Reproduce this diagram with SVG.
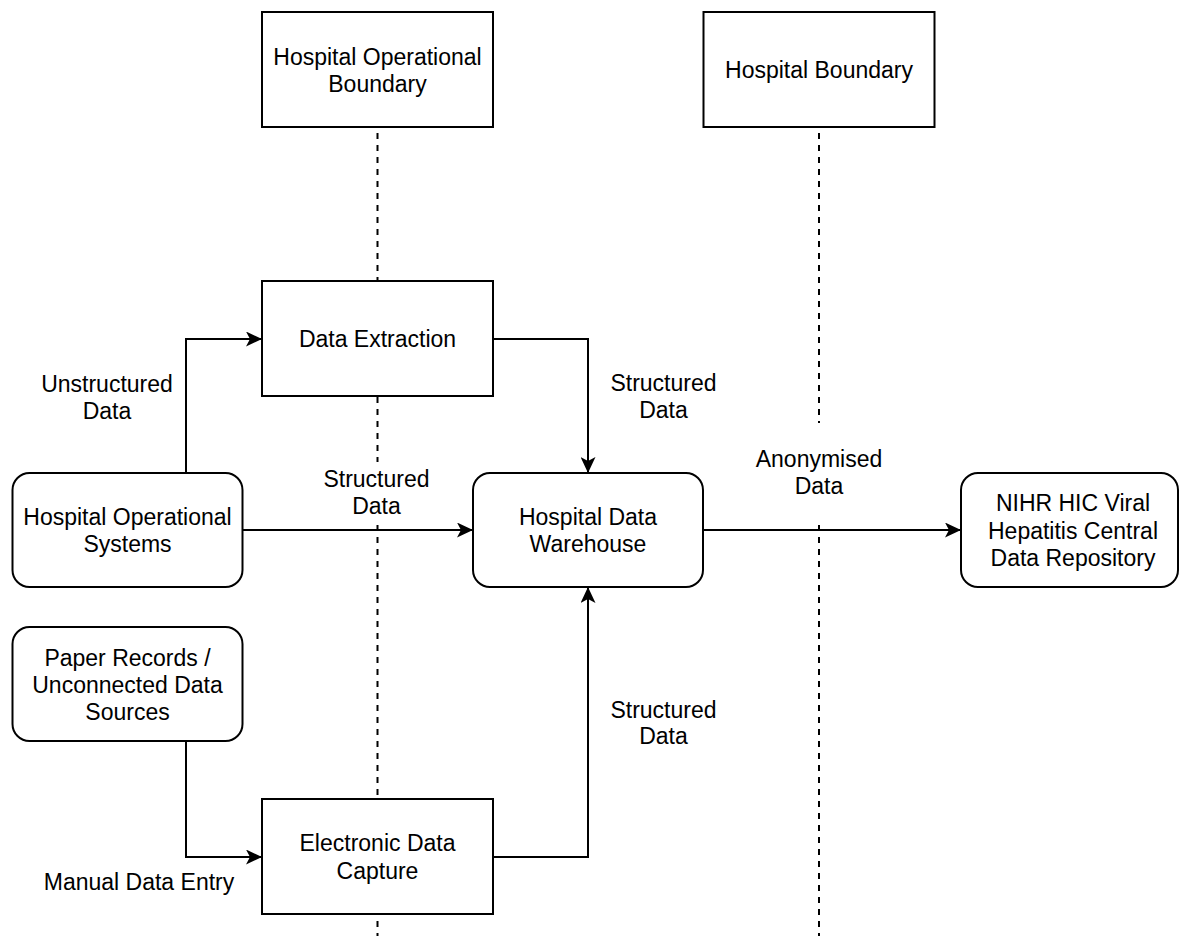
<svg xmlns="http://www.w3.org/2000/svg" width="1179" height="936" viewBox="0 0 1179 936">
  <style>
    .box { fill: #ffffff; stroke: #000000; stroke-width: 2; }
    .t { font-family: "Liberation Sans", Arial, Helvetica, sans-serif; font-size: 23px; fill: #000000; text-anchor: middle; }
    .conn { fill: none; stroke: #000000; stroke-width: 2; }
    .dash { fill: none; stroke: #000000; stroke-width: 2; stroke-dasharray: 6 6; }
  </style>
  <defs>
    <marker id="arrow" markerUnits="userSpaceOnUse" viewBox="0 0 16 15" refX="15" refY="7.5" markerWidth="16" markerHeight="15" orient="auto">
      <path d="M0,0 L16,7.5 L0,15 L4,7.5 Z" fill="#000000"/>
    </marker>
  </defs>
  <rect width="1179" height="936" fill="#ffffff"/>

  <g id="boundaries">
    <line class="dash" x1="377.5" y1="133" x2="377.5" y2="462"/>
    <line class="dash" x1="377.5" y1="525" x2="377.5" y2="936"/>
    <line class="dash" x1="819" y1="133" x2="819" y2="423"/>
    <line class="dash" x1="819" y1="525" x2="819" y2="936"/>
  </g>

  <g id="connectors">
    <path class="conn" d="M186,473 V339 H261" marker-end="url(#arrow)"/>
    <path class="conn" d="M493,339 H588 V472" marker-end="url(#arrow)"/>
    <path class="conn" d="M243,530 H472" marker-end="url(#arrow)"/>
    <path class="conn" d="M703,530 H960" marker-end="url(#arrow)"/>
    <path class="conn" d="M186,742 V857 H261" marker-end="url(#arrow)"/>
    <path class="conn" d="M493,857 H588 V588" marker-end="url(#arrow)"/>
    <text class="t" x="107" y="392">Unstructured</text>
    <text class="t" x="107" y="418.5">Data</text>
    <text class="t" x="376.5" y="487">Structured</text>
    <text class="t" x="376.5" y="513.5">Data</text>
    <text class="t" x="663.5" y="391">Structured</text>
    <text class="t" x="663.5" y="417.5">Data</text>
    <text class="t" x="819" y="467">Anonymised</text>
    <text class="t" x="819" y="494">Data</text>
    <text class="t" x="663.5" y="717.5">Structured</text>
    <text class="t" x="663.5" y="744">Data</text>
    <text class="t" x="139" y="890">Manual Data Entry</text>
  </g>

  <g id="hospital-operational-boundary">
    <rect class="box" x="262" y="12" width="231" height="115"/>
    <text class="t" x="377.5" y="64.5">Hospital Operational</text>
    <text class="t" x="377.5" y="91.5">Boundary</text>
  </g>

  <g id="hospital-boundary">
    <rect class="box" x="703.5" y="12" width="231" height="115"/>
    <text class="t" x="819" y="78">Hospital Boundary</text>
  </g>

  <g id="data-extraction">
    <rect class="box" x="262" y="281" width="231" height="115"/>
    <text class="t" x="377.5" y="346.5">Data Extraction</text>
  </g>

  <g id="hospital-operational-systems">
    <rect class="box" x="12.5" y="473" width="230" height="114" rx="17" ry="17"/>
    <text class="t" x="127.5" y="524.5">Hospital Operational</text>
    <text class="t" x="127.5" y="552">Systems</text>
  </g>

  <g id="hospital-data-warehouse">
    <rect class="box" x="473" y="473" width="230" height="114" rx="17" ry="17"/>
    <text class="t" x="588" y="524.5">Hospital Data</text>
    <text class="t" x="588" y="552">Warehouse</text>
  </g>

  <g id="nihr-repository">
    <rect class="box" x="961" y="473" width="217" height="114" rx="17" ry="17"/>
    <text class="t" x="1073" y="511">NIHR HIC Viral</text>
    <text class="t" x="1073" y="538.5">Hepatitis Central</text>
    <text class="t" x="1073" y="566">Data Repository</text>
  </g>

  <g id="paper-records">
    <rect class="box" x="12.5" y="627" width="230" height="114" rx="17" ry="17"/>
    <text class="t" x="127.5" y="666">Paper Records /</text>
    <text class="t" x="127.5" y="693">Unconnected Data</text>
    <text class="t" x="127.5" y="720">Sources</text>
  </g>

  <g id="electronic-data-capture">
    <rect class="box" x="262" y="799" width="231" height="115"/>
    <text class="t" x="377.5" y="851">Electronic Data</text>
    <text class="t" x="377.5" y="878.5">Capture</text>
  </g>
</svg>
